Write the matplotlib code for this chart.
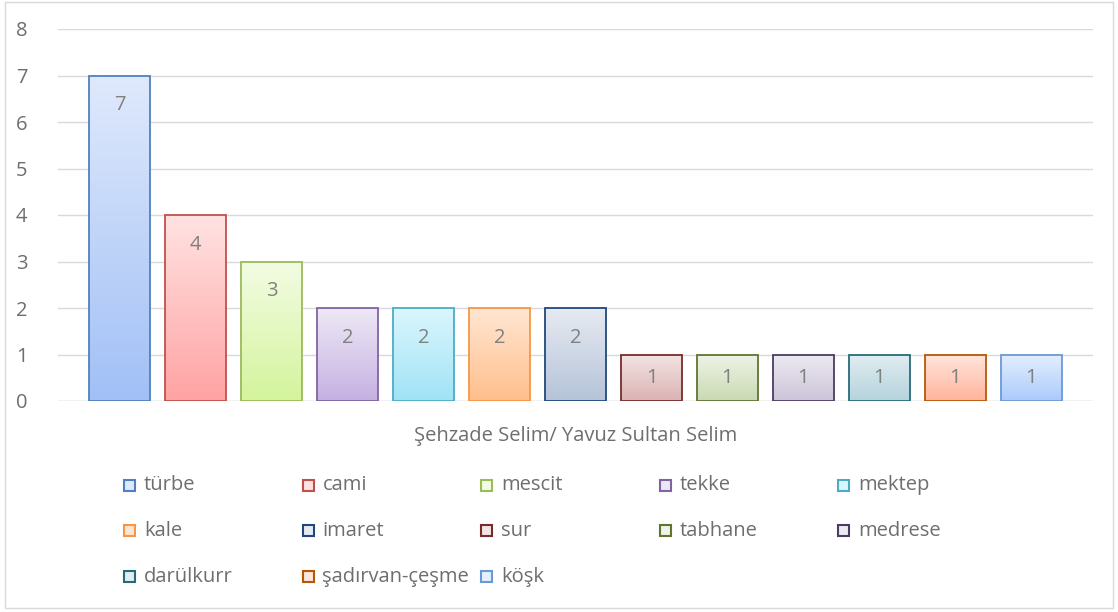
import numpy as np
import matplotlib.pyplot as plt
from matplotlib.patches import Rectangle
from matplotlib.colors import to_rgb

plt.rcParams['font.family'] = ['Open Sans', 'DejaVu Sans']

# data
names = ['türbe', 'cami', 'mescit', 'tekke', 'mektep', 'kale', 'imaret', 'sur',
         'tabhane', 'medrese', 'darülkurr', 'şadırvan-çeşme', 'köşk']
counts = [7, 4, 3, 2, 2, 2, 2, 1, 1, 1, 1, 1, 1]
group_label = 'Şehzade Selim/ Yavuz Sultan Selim'

# styles: edge, top fill, bottom fill
edges = ['#4F81BD', '#C0504D', '#9BBB59', '#8064A2', '#4BACC6', '#F79646', '#1F497D',
         '#772C2A', '#5F7530', '#4D3B62', '#276A7C', '#B65708', '#6A9AD2']
tops = ['#DFE9FC', '#FFE2E2', '#F3FCE3', '#EEE8F6', '#DAF6FD', '#FFE6D2', '#E6EAF1',
        '#F2E4E4', '#EFF3E8', '#EDEAF1', '#E0EDF1', '#FFE6DC', '#E4EFFF']
bottoms = ['#A2C0F6', '#FFA3A3', '#D4F49C', '#C5B1E2', '#A1E3F6', '#FFBF8C', '#B5C4D9',
           '#DCB2B2', '#C9DAB1', '#CCC4D8', '#B5D3DC', '#FFB49C', '#ABCAFA']

W, H = 1118, 612
FS = 14.5
TXT = '#6E6E6E'
fig = plt.figure(figsize=(W / 100, H / 100), dpi=100)
fig.patch.set_facecolor('white')

left, right, top, bottom = 58, 1093, 29, 401
ax = fig.add_axes([left / W, 1 - bottom / H, (right - left) / W, (bottom - top) / H])

x = np.arange(len(counts))
bars = ax.bar(x, counts, width=0.8, facecolor='none', edgecolor=edges, linewidth=1.3, zorder=3)

# vertical gradient inside each bar, lighter at the top
for b, t, bt in zip(bars, tops, bottoms):
    c0 = np.array(to_rgb(bt))
    c1 = np.array(to_rgb(t))
    f = np.linspace(0, 1, 64)[:, None]
    grad = (c0 * (1 - f) + c1 * f)[:, None, :]
    x0 = b.get_x()
    im = ax.imshow(grad, extent=[x0, x0 + b.get_width(), 0, b.get_height()],
                   origin='lower', aspect='auto', zorder=2, interpolation='bilinear')
    im.set_clip_path(b)

for b, v in zip(bars, counts):
    ax.text(b.get_x() + b.get_width() / 2, v - min(0.64, 0.5 * v), str(v), ha='center',
            va='center', fontsize=FS, color='#808080', zorder=4)

ax.set_xlim(-0.81, 12.81)
ax.set_ylim(0, 8)
ax.set_yticks(range(0, 9))
ax.set_xticks([])
ax.yaxis.grid(True, color='#D9D9D9', linewidth=1)
ax.set_axisbelow(True)
for s in ax.spines.values():
    s.set_visible(False)
ax.axhline(0, color='#D9D9D9', linewidth=1, zorder=1)
ax.tick_params(axis='y', length=0, pad=22, labelsize=FS, labelcolor=TXT)

fig.text((left + right) / 2 / W, 1 - 436 / H, group_label, ha='center', va='center',
         fontsize=FS, color=TXT)

# legend, row-major in 5 columns
for i, name in enumerate(names):
    col, row = i % 5, i // 5
    mx = 124 + col * 178.5
    my = 485 + row * 45.8
    sq = Rectangle((mx / W, 1 - (my + 5.5) / H), 11 / W, 11 / H, transform=fig.transFigure,
                   facecolor=tops[i], edgecolor=edges[i], linewidth=1.5)
    fig.patches.append(sq)
    fig.text((mx + 20) / W, 1 - my / H, name, ha='left', va='center',
             fontsize=FS, color=TXT)

# chart border
fig.patches.append(Rectangle((5 / W, 1 - 608 / H), 1108 / W, 606 / H, transform=fig.transFigure,
                             facecolor='none', edgecolor='#D9D9D9', linewidth=1))

fig.savefig('out.png', dpi=100)
